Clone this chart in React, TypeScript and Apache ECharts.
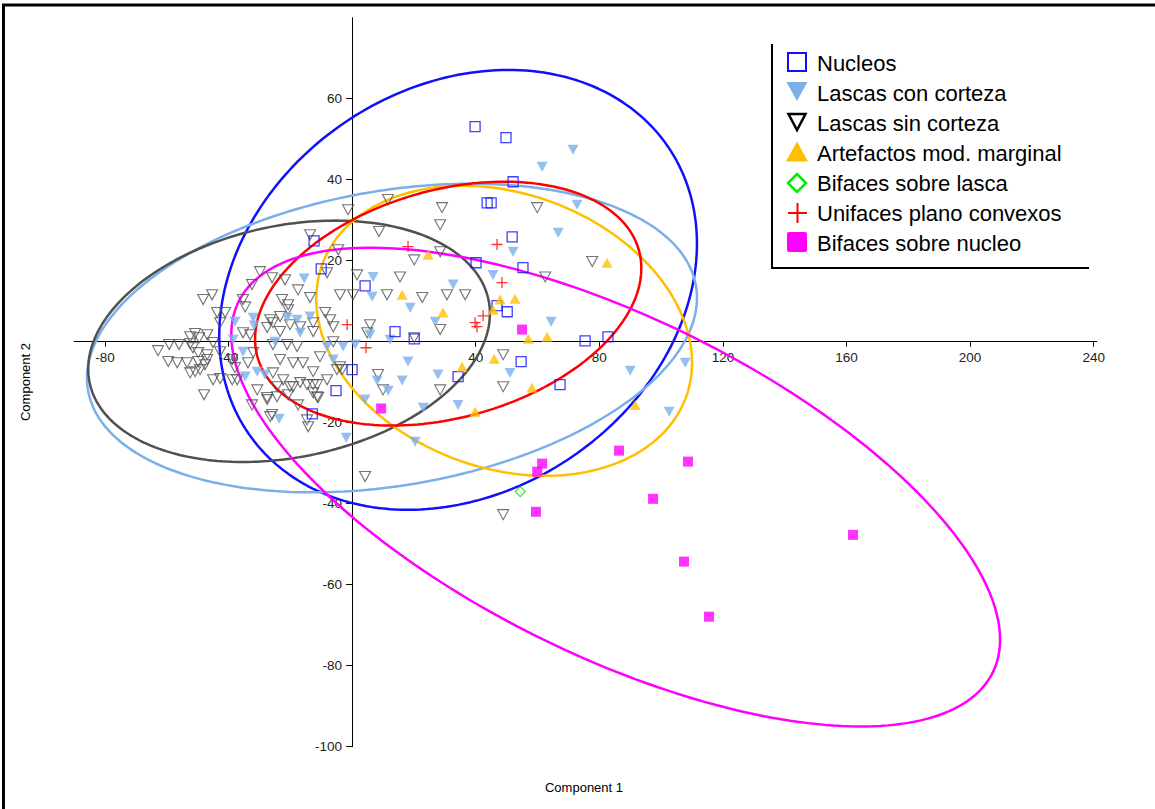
import React, { useEffect, useRef } from 'react';
import * as echarts from 'echarts';

// ---------- data (Component 1, Component 2) ----------
const nucleos: number[][] = [
  [39.8, 53.1], [49.8, 50.4], [52.1, 39.5], [43.7, 34.3], [45.0, 34.3], [51.8, 25.9],
  [40.1, 19.5], [55.3, 18.3], [46.9, 8.9], [50.2, 7.4], [13.9, 2.5], [20.1, 0.7],
  [75.4, 0.2], [82.8, 1.2], [4.2, 13.8], [54.7, -4.9], [34.3, -8.6], [67.3, -10.6],
  [0.0, -6.9], [-12.3, 24.9], [-10.0, 18.0], [-5.2, -12.1], [-12.9, -17.8],
];

const lascasConCorteza: number[][] = [
  [71.5, 47.4], [61.5, 43.2], [72.8, 33.8], [66.7, 26.9], [52.1, 22.2], [45.6, 16.5],
  [32.7, 14.1], [6.8, 16.0], [6.5, 11.1], [18.8, 8.4], [26.9, 4.9], [64.4, 4.9],
  [5.8, 1.7], [12.3, 0.5], [-2.9, -1.2], [18.1, -4.9], [51.1, -7.7], [27.8, -8.1],
  [16.2, -9.6], [8.1, -9.6], [11.7, -12.1], [4.2, -14.3], [90.0, -7.2], [107.8, -5.2],
  [102.6, -17.3], [34.3, -15.6], [23.0, -16.3], [20.4, -24.7], [-1.9, -23.7], [-23.6, -19.0],
  [-15.5, 15.6], [-32.0, 5.9], [-13.6, 6.2], [-21.0, 5.9], [-37.9, 4.9], [-17.8, 5.4],
  [-16.8, 2.2], [-24.9, 0.0], [-38.5, 0.5], [-35.3, -2.5], [-30.7, -7.4], [-28.2, -8.1],
  [-34.6, -8.6], [-8.1, -1.2], [-6.1, -4.4], [1.0, -0.7], [-31.7, 4.0],
];

const lascasSinCorteza: number[][] = [
  [-62.8, -2.2], [-59.2, -0.7], [-56.0, -0.7], [-52.4, -0.5], [-49.5, 1.0], [-46.9, 1.7],
  [-50.8, 2.0], [-45.0, -0.2], [-42.7, -2.5], [-59.5, -4.9], [-56.6, -5.2], [-53.4, -5.2],
  [-49.8, -4.9], [-47.6, -5.7], [-45.0, -9.4], [-42.7, -9.1], [-47.9, -13.1], [-50.8, -7.4],
  [-46.9, -4.4], [-49.8, -2.7], [-38.8, -4.4], [-37.9, -6.4], [-37.2, -9.4], [-32.0, -2.7],
  [-33.7, -5.2], [-35.3, 2.2], [-33.0, 1.7], [-27.5, 3.5], [-25.6, 4.7], [-23.3, 2.5],
  [-20.1, 4.2], [-16.8, 3.7], [-12.6, 4.7], [-12.6, 2.5], [-25.6, -0.7], [-21.0, -0.7],
  [-17.8, -1.2], [-23.3, -4.4], [-19.1, -5.2], [-15.9, -5.2], [-12.6, -7.4], [-10.4, -3.7],
  [-4.9, -6.9], [-25.6, -7.7], [-22.3, -9.4], [-19.1, -11.1], [-16.8, -10.1], [-12.6, -10.6],
  [-11.3, -13.6], [-27.5, -13.8], [-24.3, -13.6], [-20.7, -13.1], [-17.5, -15.6], [-26.5, -18.5],
  [-14.2, -21.0], [-6.1, 0.0], [-6.1, 3.7], [-42.7, 4.7], [-1.3, 32.6], [-13.6, 26.4],
  [-4.5, 22.7], [-29.8, 17.3], [-25.9, 15.8], [-21.7, 15.3], [-32.4, 14.1], [-17.5, 12.8],
  [-13.6, 10.9], [-48.2, 10.4], [-45.3, 11.6], [-35.3, 10.4], [-34.6, 8.6], [-22.7, 10.4],
  [-20.7, 9.1], [-20.7, 7.9], [-43.7, 7.2], [-3.9, 11.6], [0.3, 11.6], [1.6, 16.5],
  [-8.1, 17.0], [-8.7, 7.2], [-23.3, 6.2], [-26.5, 5.4], [-41.1, 7.2], [-7.1, 5.4],
  [-52.4, 1.2], [-51.5, -1.5], [-46.9, -3.2], [-52.4, -7.7], [-49.2, -6.9], [-38.8, -9.4],
  [-30.7, -11.9], [-24.3, -11.1], [-12.6, -12.6], [-8.1, -9.4], [-3.9, -6.2], [11.6, 35.1],
  [29.1, 33.1], [59.9, 33.1], [28.5, 28.9], [8.7, 27.2], [20.1, 20.2], [28.5, 22.2],
  [77.7, 19.8], [62.5, 16.0], [15.5, 16.0], [11.3, 11.6], [22.7, 10.9], [30.7, 11.6],
  [36.6, 11.6], [5.8, 4.2], [4.9, 2.2], [28.5, 3.0], [20.1, 1.0], [48.9, -3.2],
  [8.4, -8.1], [10.0, -11.9], [48.9, -11.1], [28.5, -11.9], [-3.2, -6.9], [48.9, -42.7],
  [4.2, -33.3], [-32.4, -15.6], [-27.5, -14.3], [-25.9, -18.0], [-20.1, -11.1], [-14.6, -19.3],
  [-11.0, -13.8], [-11.3, -10.6], [-14.6, -10.6],
];

const artefactos: number[][] = [
  [24.6, 21.5], [82.5, 19.5], [16.2, 11.6], [29.4, 7.2], [47.9, 10.4], [52.7, 10.6],
  [45.6, 7.9], [57.0, 0.7], [63.1, 1.2], [46.0, -4.2], [35.6, -6.2], [58.2, -11.4],
  [39.8, -17.3], [91.6, -15.6],
];

const bifacesLasca: number[][] = [[54.4, -37.0]];

const unifaces: number[][] = [
  [18.1, 23.5], [46.9, 24.0], [48.5, 14.6], [42.4, 6.4], [39.8, 4.7], [40.4, 3.7],
  [-1.6, 4.2], [4.5, -1.5],
];

const bifacesNucleo: number[][] = [
  [55.0, 3.0], [9.4, -16.5], [61.5, -30.1], [59.9, -32.1], [59.5, -42.0], [86.4, -26.9],
  [108.7, -29.6], [97.4, -38.8], [107.4, -54.3], [115.5, -67.9], [162.1, -47.7],
];

// ---------- confidence ellipses ----------
const ellipseGroup = ['Nucleos', 'Lascas con corteza', 'Lascas sin corteza', 'Artefactos mod. marginal', 'Unifaces plano convexos', 'Bifaces sobre nucleo'];
const ellipseCx = [34.3, 12.9, -20.4, 49.2, 31.1, 85.3];
const ellipseCy = [12.8, 0.9, 0.1, 2.7, 9.4, -35.9];
const ellipseHx = [77.3, 98.7, 65.0, 60.8, 62.5, 124.4];
const ellipseHy = [54.3, 38.1, 29.8, 35.8, 30.1, 59.1];
const ellipseRho = [0.21, 0.26, 0.23, -0.22, 0.29, -0.637];

// ---------- axes ----------
const xMin = -90;
const xMax = 241;
const yMin = -100;
const yMax = 80;
const xTicks = [-80, -40, 40, 80, 120, 160, 200, 240];
const yTicks = [-100, -80, -60, -40, -20, 20, 40, 60];

const legendNames = ['Nucleos', 'Lascas con corteza', 'Lascas sin corteza', 'Artefactos mod. marginal', 'Bifaces sobre lasca', 'Unifaces plano convexos', 'Bifaces sobre nucleo'];

const COLORS: Record<string, string> = {
  'Nucleos': '#1010ff',
  'Lascas con corteza': '#7aafea',
  'Lascas sin corteza': '#505050',
  'Artefactos mod. marginal': '#ffbf00',
  'Bifaces sobre lasca': '#00e000',
  'Unifaces plano convexos': '#ff0000',
  'Bifaces sobre nucleo': '#ff00ff',
};

const FONT = "'Liberation Sans', Arial, Helvetica, sans-serif";
const DOWN_TRI = 'path://M0,0L10,0L5,9Z';
const PLUS = 'path://M5,0L5,10M0,5L10,5';

function ellipsePoints(i: number): number[][] {
  const pts: number[][] = [];
  const n = 240;
  const s = Math.sqrt(1 - ellipseRho[i] * ellipseRho[i]);
  for (let k = 0; k <= n; k++) {
    const t = (2 * Math.PI * k) / n;
    const c = Math.cos(t);
    const sn = Math.sin(t);
    pts.push([
      ellipseCx[i] + ellipseHx[i] * c,
      ellipseCy[i] + ellipseHy[i] * (ellipseRho[i] * c + s * sn),
    ]);
  }
  return pts;
}

export default function App() {
  const ref = useRef<HTMLDivElement>(null);

  useEffect(() => {
    const chart = echarts.init(ref.current!, null, { renderer: 'svg' });

    const transparent = 'rgba(0,0,0,0)';

    // grid geometry
    const gLeft = 74;
    const gTop = 17.7;
    const gWidth = 1022.8;
    const gHeight = 729;
    // offsets that put each axis through the origin of the other
    const yAxisOffset = -((0 - xMin) / (xMax - xMin)) * gWidth;
    const xAxisOffset = -((0 - yMin) / (yMax - yMin)) * gHeight;

    const ellipseSeries = ellipseGroup.map((g, i) => ({
      name: g + ' ellipse',
      type: 'line',
      data: ellipsePoints(i),
      showSymbol: false,
      symbol: 'none',
      smooth: false,
      silent: true,
      clip: false,
      z: 1,
      lineStyle: { color: COLORS[g], width: 2.5 },
    }));

    const scatterSeries = [
      {
        name: 'Lascas sin corteza', type: 'scatter', data: lascasSinCorteza, z: 3,
        symbol: DOWN_TRI, symbolSize: [11, 10],
        itemStyle: { color: transparent, borderColor: COLORS['Lascas sin corteza'], borderWidth: 1.1 },
      },
      {
        name: 'Lascas con corteza', type: 'scatter', data: lascasConCorteza, z: 4,
        symbol: DOWN_TRI, symbolSize: [11, 10],
        itemStyle: { color: COLORS['Lascas con corteza'] },
      },
      {
        name: 'Nucleos', type: 'scatter', data: nucleos, z: 5,
        symbol: 'rect', symbolSize: 10,
        itemStyle: { color: transparent, borderColor: COLORS['Nucleos'], borderWidth: 1.3 },
      },
      {
        name: 'Artefactos mod. marginal', type: 'scatter', data: artefactos, z: 5,
        symbol: 'triangle', symbolSize: [11, 10],
        itemStyle: { color: COLORS['Artefactos mod. marginal'] },
      },
      {
        name: 'Bifaces sobre lasca', type: 'scatter', data: bifacesLasca, z: 5,
        symbol: 'diamond', symbolSize: 10,
        itemStyle: { color: transparent, borderColor: COLORS['Bifaces sobre lasca'], borderWidth: 1.2 },
      },
      {
        name: 'Unifaces plano convexos', type: 'scatter', data: unifaces, z: 5,
        symbol: PLUS, symbolSize: 11,
        itemStyle: { color: transparent, borderColor: COLORS['Unifaces plano convexos'], borderWidth: 1.3 },
      },
      {
        name: 'Bifaces sobre nucleo', type: 'scatter', data: bifacesNucleo, z: 5,
        symbol: 'rect', symbolSize: 10,
        itemStyle: { color: COLORS['Bifaces sobre nucleo'] },
      },
    ];

    // legend drawn as graphic
    const lx = 797;
    const rowY = (i: number) => 63 + 30 * i;
    const legendIcons: any[] = [
      { type: 'rect', shape: { x: lx - 9, y: rowY(0) - 10, width: 18, height: 18 }, style: { fill: 'none', stroke: COLORS['Nucleos'], lineWidth: 2 } },
      { type: 'polygon', shape: { points: [[lx - 10.5, rowY(1) - 11], [lx + 10.5, rowY(1) - 11], [lx, rowY(1) + 8]] }, style: { fill: COLORS['Lascas con corteza'] } },
      { type: 'polygon', shape: { points: [[lx - 8.5, rowY(2) - 9], [lx + 8.5, rowY(2) - 9], [lx, rowY(2) + 7]] }, style: { fill: 'none', stroke: '#000', lineWidth: 2.5 } },
      { type: 'polygon', shape: { points: [[lx - 11, rowY(3) + 8.5], [lx + 11, rowY(3) + 8.5], [lx, rowY(3) - 11.5]] }, style: { fill: COLORS['Artefactos mod. marginal'] } },
      { type: 'polygon', shape: { points: [[lx, rowY(4) - 9], [lx + 9, rowY(4)], [lx, rowY(4) + 9], [lx - 9, rowY(4)]] }, style: { fill: 'none', stroke: '#00ee00', lineWidth: 2.5 } },
      { type: 'line', shape: { x1: lx + 0.5, y1: rowY(5) - 10, x2: lx + 0.5, y2: rowY(5) + 10 }, style: { stroke: COLORS['Unifaces plano convexos'], lineWidth: 2 } },
      { type: 'line', shape: { x1: lx - 9, y1: rowY(5), x2: lx + 10, y2: rowY(5) }, style: { stroke: COLORS['Unifaces plano convexos'], lineWidth: 2 } },
      { type: 'rect', shape: { x: lx - 10, y: rowY(6) - 11, width: 20, height: 20, r: 2 }, style: { fill: COLORS['Bifaces sobre nucleo'] } },
    ];
    const legendTexts = legendNames.map((name, i) => ({
      type: 'text',
      x: 817,
      y: rowY(i),
      style: { text: name, fill: '#000', fontSize: 22, fontFamily: FONT, textAlign: 'left', textVerticalAlign: 'middle' },
    }));

    const option: any = {
      animation: false,
      backgroundColor: '#ffffff',
      grid: { left: gLeft, top: gTop, width: gWidth, height: gHeight, containLabel: false },
      xAxis: {
        type: 'value', min: xMin, max: xMax, position: 'bottom', offset: xAxisOffset,
        splitLine: { show: false },
        axisLine: { show: true, onZero: false, lineStyle: { color: '#000', width: 1 } },
        axisTick: { show: true, length: 5, customValues: xTicks, lineStyle: { color: '#000' } },
        axisLabel: { customValues: xTicks, fontSize: 13.5, color: '#222', fontFamily: FONT, margin: 9 },
      },
      yAxis: {
        type: 'value', min: yMin, max: yMax, position: 'left', offset: yAxisOffset,
        splitLine: { show: false },
        axisLine: { show: true, onZero: false, lineStyle: { color: '#000', width: 1 } },
        axisTick: { show: true, length: 6, customValues: yTicks, lineStyle: { color: '#000' } },
        axisLabel: { customValues: yTicks, fontSize: 13.5, color: '#222', fontFamily: FONT, margin: 10 },
      },
      series: [...ellipseSeries, ...scatterSeries],
      graphic: [
        { type: 'rect', shape: { x: 3.5, y: 5, width: 1300, height: 1000 }, style: { fill: 'none', stroke: '#000', lineWidth: 3 }, silent: true, z: 0 },
        { type: 'line', shape: { x1: 772, y1: 44, x2: 772, y2: 268 }, style: { stroke: '#000', lineWidth: 2 }, z: 10 },
        { type: 'line', shape: { x1: 771, y1: 268, x2: 1089, y2: 268 }, style: { stroke: '#000', lineWidth: 2 }, z: 10 },
        ...legendIcons.map((g) => ({ ...g, z: 10 })),
        ...legendTexts.map((g) => ({ ...g, z: 10 })),
        {
          type: 'text', x: 584, y: 787, z: 10,
          style: { text: 'Component 1', fill: '#000', fontSize: 13, fontFamily: FONT, textAlign: 'center', textVerticalAlign: 'middle' },
        },
        {
          type: 'text', x: 25.5, y: 382, rotation: Math.PI / 2, z: 10,
          style: { text: 'Component 2', fill: '#000', fontSize: 13, fontFamily: FONT, textAlign: 'center', textVerticalAlign: 'middle' },
        },
      ],
    };

    chart.setOption(option);
    return () => chart.dispose();
  }, []);

  return (
    <div
      ref={ref}
      style={{ position: 'fixed', left: 0, top: 0, width: 1155, height: 809, background: '#fff' }}
    />
  );
}
